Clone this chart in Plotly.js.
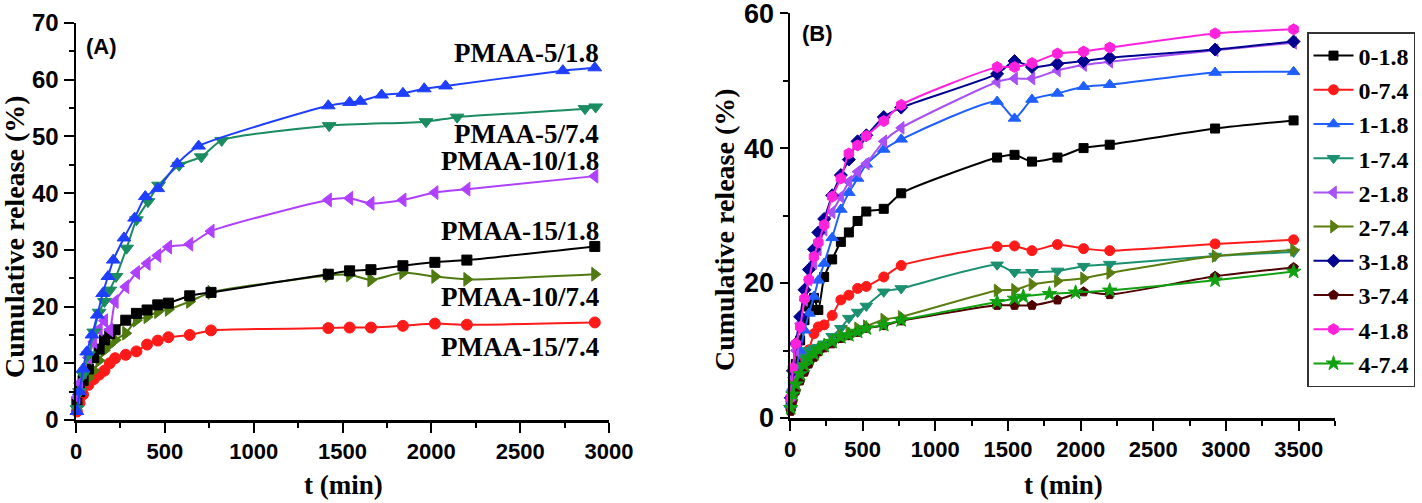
<!DOCTYPE html>
<html>
<head>
<meta charset="utf-8">
<script src="https://cdn.plot.ly/plotly-3.0.1.min.js"></script>
<style>html,body{margin:0;padding:0;background:#fff;}#chart{width:1422px;height:503px;}</style>
</head>
<body>
<div id="chart"></div>
<script>
// ---------- Panel A data ----------
var tA = [5, 20, 40, 70, 100, 130, 160, 190, 220, 280, 340, 400, 460, 520, 640, 760, 1420, 1540, 1660, 1840, 2020, 2200, 2920];
var pmaa15_74 = [1.5, 3.0, 4.5, 6.2, 7.2, 8.0, 8.7, 10.0, 10.9, 11.5, 12.1, 13.3, 14.0, 14.6, 15.0, 15.8, 16.2, 16.3, 16.3, 16.6, 17.0, 16.8, 17.2];
var pmaa15_18 = [3.0, 5.0, 7.0, 9.0, 11.0, 12.5, 14.1, 15.2, 15.9, 17.6, 18.8, 19.4, 20.3, 20.6, 21.9, 22.5, 25.7, 26.3, 26.5, 27.2, 27.8, 28.2, 30.6];
var pmaa10_74 = [3.0, 5.0, 6.3, 7.4, 8.7, 10.5, 12.3, 13.3, 14.1, 15.3, 17.6, 18.2, 19.1, 19.5, 20.9, 22.5, 25.5, 25.6, 24.7, 26.0, 25.3, 24.8, 25.7];
var pmaa10_18 = [4.0, 6.5, 8.5, 11.0, 13.8, 16.0, 17.5, 15.9, 20.9, 23.5, 26.0, 27.6, 29.0, 30.5, 31.0, 33.3, 38.8, 39.1, 38.2, 38.8, 40.1, 40.7, 43.0];
var tA5_18 = [5, 20, 40, 60, 90, 120, 150, 180, 210, 270, 330, 390, 460, 570, 690, 1420, 1540, 1600, 1720, 1840, 1960, 2080, 2740, 2920];
var pmaa5_18 = [1.5, 5.0, 9.0, 12.0, 15.0, 18.5, 22.3, 25.3, 28.2, 32.1, 35.6, 39.4, 40.8, 45.2, 48.3, 55.4, 56.0, 56.2, 57.3, 57.6, 58.4, 58.9, 61.6, 62.1];
var tA5_74 = [5, 20, 40, 70, 100, 130, 160, 190, 225, 285, 340, 405, 465, 580, 705, 820, 1425, 1970, 2145, 2865, 2925];
var pmaa5_74 = [2.0, 5.0, 8.0, 11.5, 15.5, 19.0, 20.9, 22.9, 25.3, 30.3, 35.3, 38.5, 41.4, 44.9, 46.4, 49.3, 51.9, 52.6, 53.4, 54.9, 55.2];
var labelsA = ["PMAA-5/1.8", "PMAA-5/7.4", "PMAA-10/1.8", "PMAA-15/1.8", "PMAA-10/7.4", "PMAA-15/7.4"];
var yTicksA = [0, 10, 20, 30, 40, 50, 60, 70];

// ---------- Panel B data ----------
var tB = [5, 20, 40, 70, 100, 130, 165, 195, 235, 290, 350, 405, 465, 525, 645, 765, 1425, 1545, 1665, 1840, 2020, 2200, 2925, 3465];
var tB_star = [5, 20, 40, 70, 100, 130, 165, 195, 235, 290, 350, 405, 465, 525, 645, 765, 1425, 1545, 1605, 1785, 1965, 2200, 2925, 3465];
var s0_18 = [2.0, 5.0, 8.0, 11.5, 14.5, 16.5, 17.8, 16.0, 20.9, 23.5, 26.1, 27.5, 29.2, 30.6, 31.0, 33.3, 38.6, 39.0, 38.0, 38.6, 40.0, 40.5, 42.9, 44.1];
var s0_74 = [1.5, 3.5, 5.5, 7.5, 9.0, 10.1, 12.5, 13.5, 13.8, 15.2, 17.5, 18.2, 19.2, 19.5, 20.9, 22.6, 25.4, 25.5, 24.8, 25.7, 25.1, 24.8, 25.8, 26.4];
var s1_18 = [2.0, 4.5, 7.0, 10.0, 13.0, 15.5, 18.0, 20.4, 22.9, 26.7, 30.9, 33.4, 35.5, 37.6, 39.8, 41.3, 46.9, 44.4, 47.2, 48.1, 49.1, 49.4, 51.2, 51.3];
var s1_74 = [1.5, 3.5, 5.5, 7.5, 9.0, 10.0, 10.3, 10.5, 11.0, 12.1, 13.3, 14.8, 15.7, 16.6, 18.7, 19.2, 22.7, 21.6, 21.6, 21.8, 22.5, 22.8, 24.0, 24.6];
var s2_18 = [2.5, 6.0, 10.0, 14.0, 17.5, 20.5, 23.0, 25.0, 27.9, 30.5, 32.8, 35.0, 36.5, 37.7, 41.0, 43.0, 49.8, 50.3, 50.3, 51.5, 52.3, 52.8, 54.5, 55.6];
var s2_74 = [1.5, 3.5, 5.0, 6.3, 7.4, 8.3, 9.0, 9.8, 10.4, 11.3, 12.0, 12.7, 13.3, 13.6, 14.6, 15.0, 18.9, 19.0, 19.8, 20.3, 20.7, 21.5, 24.0, 24.9];
var s3_18 = [3.0, 7.0, 11.0, 15.0, 19.0, 22.0, 25.0, 27.5, 29.5, 33.0, 36.0, 38.3, 41.0, 41.9, 44.6, 46.0, 51.0, 52.9, 52.0, 52.5, 52.9, 53.4, 54.6, 55.8];
var s3_74 = [1.0, 2.5, 4.0, 5.5, 6.8, 8.0, 9.0, 9.8, 10.4, 11.0, 11.8, 12.2, 12.7, 13.3, 13.7, 14.4, 16.7, 16.7, 16.7, 17.5, 18.7, 18.3, 21.0, 22.3];
var s4_18 = [3.0, 7.4, 11.0, 13.5, 17.7, 20.5, 23.9, 26.0, 28.6, 32.8, 35.5, 39.2, 40.4, 41.8, 44.0, 46.4, 52.0, 52.0, 52.6, 54.0, 54.3, 54.9, 57.0, 57.6];
var s4_74 = [1.5, 3.5, 5.0, 6.5, 7.8, 8.8, 9.5, 10.2, 10.7, 11.3, 12.0, 12.3, 12.8, 13.3, 13.8, 14.5, 17.2, 17.7, 18.0, 18.4, 18.6, 18.9, 20.4, 21.7];
var namesB = ["0-1.8", "0-7.4", "1-1.8", "1-7.4", "2-1.8", "2-7.4", "3-1.8", "3-7.4", "4-1.8", "4-7.4"];
var yTicksB = [0, 20, 40, 60];

var W = 1422, H = 503;
function px(x){ return x / W; }
function py(y){ return 1 - y / H; }

function tr(x, y, color, symbol, size, axis, name, showleg) {
  return {
    x: x, y: y, type: 'scatter', mode: 'lines+markers', name: name || '',
    xaxis: axis === 'B' ? 'x2' : 'x', yaxis: axis === 'B' ? 'y2' : 'y',
    line: {color: color, width: 2, shape: 'spline', smoothing: 0.6},
    marker: {color: color, symbol: symbol, size: size, line: {color: color, width: 1}},
    showlegend: !!showleg, cliponaxis: false
  };
}

var data = [
  tr(tA, pmaa15_74, '#ff1a1a', 'circle', 11, 'A'),
  tr(tA, pmaa10_74, '#4f7a10', 'triangle-right', 12, 'A'),
  tr(tA, pmaa15_18, '#000000', 'square', 10, 'A'),
  tr(tA, pmaa10_18, '#b040ff', 'triangle-left', 12, 'A'),
  tr(tA5_74, pmaa5_74, '#1a8c60', 'triangle-down', 12, 'A'),
  tr(tA5_18, pmaa5_18, '#1f3fff', 'triangle-up', 12, 'A'),

  tr(tB, s0_18, '#000000', 'square', 9, 'B', namesB[0], true),
  tr(tB, s0_74, '#ff1a1a', 'circle', 10, 'B', namesB[1], true),
  tr(tB, s1_18, '#1f5fff', 'triangle-up', 11, 'B', namesB[2], true),
  tr(tB, s1_74, '#1a9070', 'triangle-down', 11, 'B', namesB[3], true),
  tr(tB, s2_18, '#a850f5', 'triangle-left', 11, 'B', namesB[4], true),
  tr(tB, s2_74, '#5a7d10', 'triangle-right', 11, 'B', namesB[5], true),
  tr(tB, s3_18, '#000090', 'diamond', 10, 'B', namesB[6], true),
  tr(tB, s3_74, '#500000', 'pentagon', 10, 'B', namesB[7], true),
  tr(tB, s4_18, '#ff22dd', 'hexagon', 11, 'B', namesB[8], true),
  tr(tB_star, s4_74, '#10a010', 'star', 11, 'B', namesB[9], true)
];

var tickFontX = {family: 'Liberation Sans, Arial, sans-serif', size: 22, color: '#000', weight: 'bold'};
var serif = 'Liberation Serif, Times New Roman, serif';

function axisBase(extra) {
  var a = {
    showline: true, linecolor: '#000', linewidth: 2.5, mirror: false,
    showgrid: false, zeroline: false,
    ticks: 'outside', ticklen: 10, tickwidth: 2, tickcolor: '#000',
    ticklabeloverflow: 'allow', fixedrange: true
  };
  for (var k in extra) a[k] = extra[k];
  return a;
}

var layout = {
  width: W, height: H,
  margin: {l: 0, r: 0, t: 0, b: 0},
  paper_bgcolor: '#fff', plot_bgcolor: 'rgba(0,0,0,0)',
  xaxis: axisBase({domain: [px(76), px(609)], range: [0, 3000], dtick: 500, tick0: 0,
    tickfont: tickFontX, anchor: 'y',
    minor: {dtick: 250, ticklen: 5, tickwidth: 2, tickcolor: '#000', ticks: 'outside'}}),
  yaxis: axisBase({domain: [py(420), py(23)], range: [0, 70], tickmode: 'array', tickvals: yTicksA,
    tickfont: {family: 'Liberation Sans, Arial, sans-serif', size: 24, color: '#000', weight: 'bold'}, anchor: 'x',
    minor: {dtick: 5, ticklen: 5, tickwidth: 2, tickcolor: '#000', ticks: 'outside'}}),
  xaxis2: axisBase({domain: [px(790), px(1335)], range: [0, 3750], dtick: 500, tick0: 0,
    tickfont: tickFontX, anchor: 'y2',
    minor: {dtick: 250, ticklen: 5, tickwidth: 2, tickcolor: '#000', ticks: 'outside'}}),
  yaxis2: axisBase({domain: [py(418), py(13)], range: [0, 60.02], tickmode: 'array', tickvals: yTicksB, ticklen: 8,
    tickfont: {family: 'Liberation Sans, Arial, sans-serif', size: 27, color: '#000', weight: 'bold'}, anchor: 'x2',
    minor: {tickmode: 'array', tickvals: [10, 30, 50], ticklen: 5, tickwidth: 2, tickcolor: '#000', ticks: 'outside'}}),
  showlegend: true,
  legend: {
    x: px(1307), y: py(32), xanchor: 'left', yanchor: 'top',
    bgcolor: '#fff', bordercolor: '#333', borderwidth: 1.5,
    font: {family: serif, size: 24, color: '#000', weight: 'bold'},
    tracegroupgap: 0, itemwidth: 40
  },
  annotations: []
};

function ann(text, x, y, opts) {
  var a = {text: text, x: x, y: y, xref: 'paper', yref: 'paper', showarrow: false,
    xanchor: 'center', yanchor: 'middle',
    font: {family: serif, size: 27, color: '#000', weight: 'bold'}};
  for (var k in opts) a[k] = opts[k];
  layout.annotations.push(a);
}

// axis titles
ann('Cumulative release (%)', px(14), py(237), {textangle: -90, font: {family: serif, size: 28, color: '#000', weight: 'bold'}});
ann('Cumulative release (%)', px(725), py(229), {textangle: -90, font: {family: serif, size: 28, color: '#000', weight: 'bold'}});
ann('t (min)', px(343), py(485));
ann('t (min)', px(1063), py(485));
// panel labels
ann('(A)', px(101), py(47), {font: {family: 'Liberation Sans, Arial, sans-serif', size: 22, color: '#000', weight: 'bold'}});
ann('(B)', px(817), py(33), {font: {family: 'Liberation Sans, Arial, sans-serif', size: 22, color: '#000', weight: 'bold'}});
// series labels in panel A
var labelY = [53, 134, 161, 231, 297, 347];
for (var i = 0; i < labelsA.length; i++) {
  ann(labelsA[i], px(601), py(labelY[i]), {xanchor: 'right'});
}

Plotly.newPlot('chart', data, layout, {displayModeBar: false, staticPlot: true});
</script>
</body>
</html>
